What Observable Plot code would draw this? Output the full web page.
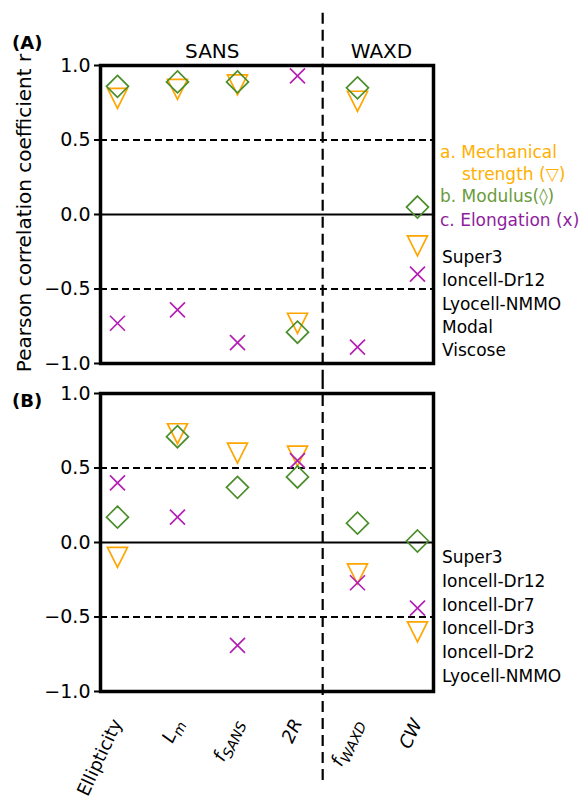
<!DOCTYPE html>
<html>
<head>
<meta charset="utf-8">
<script src="https://cdn.jsdelivr.net/npm/d3@7"></script>
<script src="https://cdn.jsdelivr.net/npm/@observablehq/plot@0.6"></script>
<style>
  html, body { margin: 0; padding: 0; background: #fff; }
  #wrap { position: relative; width: 583px; height: 803px; font-family: "DejaVu Sans", sans-serif; color: #000; overflow: hidden; }
  #wrap svg { position: absolute; left: 0; }
  .abs { position: absolute; white-space: nowrap; }
  .panel { font-weight: bold; font-size: 18px; }
  .leg { font-size: 17px; line-height: 23.5px; }
</style>
</head>
<body>
<div id="wrap"></div>
<script>
// ---------- data ----------
const categories = ["Ellipticity", "L_m", "f_SANS", "2R", "f_WAXD", "CW"];
const groupNames = ["SANS", "WAXD"];
const groupCenters = [1.58, 4.4];   // category-index units
const groupSplit = 3.42;            // boundary between SANS and WAXD groups
const yTicks = [-1, -0.5, 0, 0.5, 1];
const refLines = [-0.5, 0.5];

// Panel A
const A_strength = [0.78, 0.84, 0.87, -0.73, 0.76, -0.21];
const A_modulus  = [0.86, 0.89, 0.89, -0.79, 0.85, 0.05];
const A_elong    = [-0.73, -0.64, -0.86, 0.93, -0.89, -0.40];
const A_fibres   = ["Super3", "Ioncell-Dr12", "Lyocell-NMMO", "Modal", "Viscose"];

// Panel B
const B_strength = [-0.10, 0.73, 0.60, 0.58, -0.21, -0.60];
const B_modulus  = [0.17, 0.71, 0.37, 0.44, 0.13, 0.01];
const B_elong    = [0.40, 0.17, -0.69, 0.55, -0.27, -0.44];
const B_fibres   = ["Super3", "Ioncell-Dr12", "Ioncell-Dr7", "Ioncell-Dr3", "Ioncell-Dr2", "Lyocell-NMMO"];

const legendItems = ["a. Mechanical", "strength (\u25BD)", "b. Modulus(\u25CA)", "c. Elongation (x)"];

// ---------- styles ----------
const C_ORANGE = "#FFA500", C_GREEN = "#4B8E2C", C_PURPLE = "#B420B4";
const T_ORANGE = "#FFB000", T_GREEN = "#6A9B3C", T_PURPLE = "#8E1E9E";

const triDown = { draw(ctx, size) { const r = Math.sqrt(size / Math.PI);
  ctx.moveTo(-r, -r); ctx.lineTo(r, -r); ctx.lineTo(0, r); ctx.closePath(); } };
const diamond = { draw(ctx, size) { const r = Math.sqrt(size / Math.PI);
  ctx.moveTo(0, -r); ctx.lineTo(r, 0); ctx.lineTo(0, r); ctx.lineTo(-r, 0); ctx.closePath(); } };
const cross = { draw(ctx, size) { const r = Math.sqrt(size / Math.PI);
  ctx.moveTo(-r, -r); ctx.lineTo(r, r); ctx.moveTo(-r, r); ctx.lineTo(r, -r); } };

const idx = d3.range(categories.length);
const xDomain = [-0.283, 5.267];

function seriesMarks(strength, modulus, elong) {
  return [
    Plot.dot(idx, {x: i => i, y: i => strength[i], symbol: triDown, r: 10, stroke: C_ORANGE, strokeWidth: 1.7, fill: "none"}),
    Plot.dot(idx, {x: i => i, y: i => modulus[i], symbol: diamond, r: 11, stroke: C_GREEN, strokeWidth: 1.7, fill: "none"}),
    Plot.dot(idx, {x: i => i, y: i => elong[i], symbol: cross, r: 7.5, stroke: C_PURPLE, strokeWidth: 1.7, fill: "none"})
  ];
}

function baseMarks() {
  return [
    Plot.ruleY([0], {stroke: "#000", strokeWidth: 2}),
    Plot.ruleY(refLines, {stroke: "#000", strokeWidth: 2, strokeDasharray: "7,4"}),
  ];
}

const common = {
  width: 583,
  marginLeft: 100,
  marginRight: 150,
  x: {domain: xDomain, axis: null},
  y: {domain: [-1, 1], axis: null},
  style: {fontFamily: "DejaVu Sans, sans-serif", fontSize: "19px", background: "transparent", color: "#000"}
};

const yAxis = () => Plot.axisY(yTicks, {
  tickFormat: d3.format(".1f"), tickSize: 6, tickPadding: 4, strokeWidth: 2, label: null, fontSize: 19
});

// ---------- panel A ----------
const plotA = Plot.plot({
  ...common,
  height: 380,
  marginTop: 65,
  marginBottom: 17,
  marks: [
    ...baseMarks(),
    Plot.ruleX([groupSplit], {y1: 1.35, y2: -1.12, stroke: "#000", strokeWidth: 2.2, strokeDasharray: "11,6"}),
    ...seriesMarks(A_strength, A_modulus, A_elong),
    Plot.frame({stroke: "#000", strokeWidth: 3.5}),
    yAxis(),
    Plot.text(groupNames, {x: (d, i) => groupCenters[i], text: d => d, frameAnchor: "top", dy: -22, fontSize: 20})
  ]
});

// ---------- panel B ----------
const plotB = Plot.plot({
  ...common,
  height: 423,
  marginTop: 13,
  marginBottom: 112,
  marks: [
    ...baseMarks(),
    Plot.ruleX([groupSplit], {y1: 1.1, y2: -1.62, stroke: "#000", strokeWidth: 2.2, strokeDasharray: "11,6"}),
    ...seriesMarks(B_strength, B_modulus, B_elong),
    Plot.frame({stroke: "#000", strokeWidth: 3.5}),
    yAxis(),
    Plot.text(categories, {x: (d, i) => i, text: d => d, frameAnchor: "bottom", dy: 31, dx: 5,
      rotate: -65, textAnchor: "end", fontSize: 18})
  ]
});

// rich tick labels (italic + subscripts)
d3.select(plotB).selectAll("text").each(function() {
  const label = this.textContent;
  if (!categories.includes(label)) return;
  const [base, sub] = label.split("_");
  const italic = label !== "Ellipticity";
  const t = d3.select(this);
  t.text("");
  t.append("tspan").attr("font-style", italic ? "italic" : null).text(base);
  if (sub) t.append("tspan").attr("font-style", "italic").attr("font-size", "0.78em").attr("dy", "0.35em").text(sub);
});

const wrap = document.getElementById("wrap");
plotA.style.top = "0px";
plotB.style.top = "380px";
wrap.appendChild(plotA);
wrap.appendChild(plotB);

// ---------- text annotations ----------
function addDiv(text, left, top, cls, color, extra) {
  const d = document.createElement("div");
  d.className = "abs " + cls;
  d.textContent = text;
  d.style.left = left + "px";
  d.style.top = top + "px";
  if (color) d.style.color = color;
  if (extra) Object.assign(d.style, extra);
  wrap.appendChild(d);
  return d;
}
addDiv("(A)", 12, 32, "panel");
addDiv("(B)", 12, 390, "panel");

// y axis title
addDiv("Pearson correlation coefficient r", 24, 213, "", "#000",
  {fontSize: "20px", transform: "translate(-50%, -50%) rotate(-90deg)"});

// legend (panel A)
const legColors = [T_ORANGE, T_ORANGE, T_GREEN, T_PURPLE];
const legIndent = [0, 22, 0, 0];
const legTops = [141, 163, 185, 209];
legendItems.forEach((t, i) => addDiv(t, 440 + legIndent[i], legTops[i], "leg", legColors[i]));

A_fibres.forEach((t, i) => addDiv(t, 442, 246 + i * 23.3, "leg"));
B_fibres.forEach((t, i) => addDiv(t, 442, 546 + i * 23.8, "leg"));
</script>
</body>
</html>
